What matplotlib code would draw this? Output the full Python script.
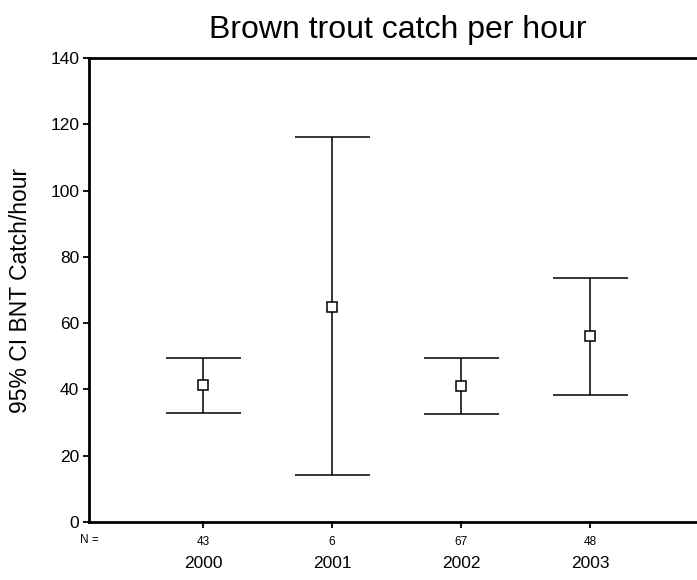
import numpy as np
import matplotlib.pyplot as plt

plt.rcParams['font.family'] = ['Liberation Sans', 'DejaVu Sans']

years = ['2000', '2001', '2002', '2003']
n_counts = ['43', '6', '67', '48']
means = [41.2, 65.0, 41.0, 56.2]
ci_low = [33.0, 14.3, 32.7, 38.2]
ci_high = [49.6, 116.3, 49.6, 73.7]

fig = plt.figure(figsize=(6.97, 5.80), dpi=100)
ax = fig.add_axes([89/697, 58/580, 1 - 89/697, (522 - 58)/580])

x = np.arange(1, len(years) + 1)
means = np.array(means)
yerr = [means - np.array(ci_low), np.array(ci_high) - means]
ax.errorbar(x, means, yerr=yerr, fmt='none', ecolor='black', elinewidth=1.1,
            capsize=27, capthick=1.1)
ax.plot(x, means, 's', ms=6.5, mfc='white', mec='black', mew=1.1)

ax.set_xlim(0.116, 4.829)
ax.set_ylim(0, 140)
ax.set_yticks(np.arange(0, 141, 20))
ax.set_xticks(x)
ax.set_xticklabels(n_counts, fontsize=8.5)
ax.tick_params(axis='y', labelsize=12.5, length=4, width=1.3, direction='out', pad=3)
ax.tick_params(axis='x', length=4, width=1.3, direction='out', pad=6)

for s in ['left', 'bottom', 'top']:
    ax.spines[s].set_linewidth(2)
ax.spines['right'].set_visible(False)

# px -> points at 100 dpi
px = 72 / 100
for xi, yr in zip(x, years):
    ax.annotate(yr, (xi, 0), xycoords=('data', 'axes fraction'),
                xytext=(0, -42 * px), textcoords='offset points',
                ha='center', va='center', fontsize=12.5)
ax.annotate('N =', (0, 0), xycoords='axes fraction', xytext=(0, -18 * px),
            textcoords='offset points', ha='center', va='center', fontsize=8.5)

fig.text(21/697, 290/580, '95% CI BNT Catch/hour', rotation=90, ha='center',
         va='center', fontsize=16.5)
fig.text(398/697, 1 - 30/580, 'Brown trout catch per hour', ha='center',
         va='center', fontsize=23)

fig.savefig('out.png', dpi=100)
